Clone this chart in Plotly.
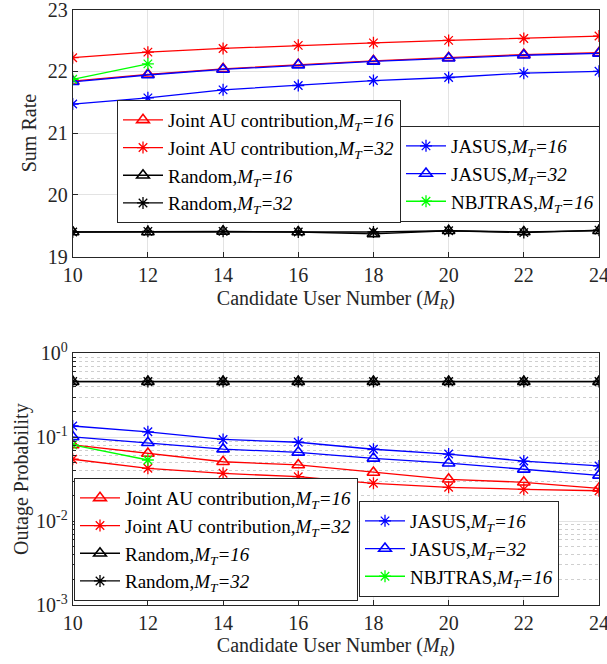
import plotly.graph_objects as go

x = [10, 12, 14, 16, 18, 20, 22, 24]
x_nb = [10, 12]
x_ticks = [10, 12, 14, 16, 18, 20, 22, 24]

# Sum rate
sr_joint16 = [21.84, 21.95, 22.04, 22.11, 22.17, 22.22, 22.27, 22.30]
sr_joint32 = [22.22, 22.31, 22.37, 22.42, 22.46, 22.50, 22.53, 22.57]
sr_rand16 = [19.40, 19.40, 19.41, 19.40, 19.37, 19.42, 19.40, 19.42]
sr_rand32 = [19.40, 19.41, 19.41, 19.40, 19.40, 19.42, 19.39, 19.43]
sr_jasus16 = [21.47, 21.57, 21.70, 21.77, 21.85, 21.90, 21.97, 22.00]
sr_jasus32 = [21.83, 21.94, 22.03, 22.10, 22.16, 22.21, 22.26, 22.29]
sr_nb16 = [21.87, 22.12]

# Outage probability
op_joint16 = [0.081, 0.064, 0.051, 0.0467, 0.038, 0.0315, 0.029, 0.0246]
op_joint32 = [0.0546, 0.0426, 0.0371, 0.0338, 0.0282, 0.0253, 0.0239, 0.023]
op_rand16 = [0.459, 0.459, 0.459, 0.459, 0.459, 0.459, 0.459, 0.459]
op_rand32 = [0.461, 0.461, 0.461, 0.461, 0.461, 0.461, 0.461, 0.461]
op_jasus16 = [0.136, 0.116, 0.094, 0.087, 0.0718, 0.063, 0.052, 0.0454]
op_jasus32 = [0.101, 0.086, 0.072, 0.066, 0.056, 0.049, 0.0414, 0.0351]
op_nb16 = [0.081, 0.0535]

FONT = "Times New Roman"
TXT = "#262626"

def name(base, mt):
    return f"{base},<i>M</i><sub><i>T</i></sub><i>={mt}</i>"

series = [
    ("Joint AU contribution", 16, "#FF0000", "triangle-up-open", True, sr_joint16, op_joint16, x),
    ("Joint AU contribution", 32, "#FF0000", "asterisk-open", True, sr_joint32, op_joint32, x),
    ("Random", 16, "#000000", "triangle-up-open", True, sr_rand16, op_rand16, x),
    ("Random", 32, "#000000", "asterisk-open", True, sr_rand32, op_rand32, x),
    ("JASUS", 16, "#0000FF", "asterisk-open", False, sr_jasus16, op_jasus16, x),
    ("JASUS", 32, "#0000FF", "triangle-up-open", False, sr_jasus32, op_jasus32, x),
    ("NBJTRAS", 16, "#00FF00", "asterisk-open", False, sr_nb16, op_nb16, x_nb),
]

fig = go.Figure()
for i, (base, mt, col, sym, left, sr, op, xx) in enumerate(series):
    mk = dict(symbol=sym, size=11 if "triangle" in sym else 10, color=col,
              line=dict(color=col, width=1.6 if "triangle" in sym else 1.3))
    fig.add_trace(go.Scatter(x=xx, y=sr, mode="lines+markers", name=name(base, mt),
                             line=dict(color=col, width=1.3), marker=mk,
                             legendgroup=f"a{i}",
                             xaxis="x", yaxis="y", legend="legend" if left else "legend2"))
    fig.add_trace(go.Scatter(x=xx, y=op, mode="lines+markers", name=name(base, mt),
                             line=dict(color=col, width=1.3), marker=mk,
                             legendgroup=f"b{i}",
                             xaxis="x2", yaxis="y2", legend="legend3" if left else "legend4"))

W, H = 607, 664
xdom = [72.7 / W, 599 / W]
axis_common = dict(showline=True, linecolor=TXT, linewidth=1, mirror=True,
                   ticks="inside", ticklen=5, tickcolor=TXT,
                   showgrid=True, gridcolor="#e3e3e3", gridwidth=1,
                   tickfont=dict(family=FONT, size=20, color=TXT),
                   ticklabeloverflow="allow",
                   zeroline=False, automargin=False)

title_x = "Candidate User Number (<i>M</i><sub><i>R</i></sub>)"

leg_common = dict(bgcolor="white", bordercolor=TXT, borderwidth=1,
                  font=dict(family=FONT, size=19, color="#000000"),
                  xanchor="left", yanchor="top", itemwidth=40, tracegroupgap=0)

minor_vals = []
for d in [0.001, 0.01, 0.1]:
    for k in range(2, 10):
        minor_vals.append(k * d)

fig.update_layout(
    width=W, height=H,
    margin=dict(l=0, r=0, t=0, b=0),
    paper_bgcolor="white", plot_bgcolor="white",
    font=dict(family=FONT, color=TXT),
    xaxis=dict(domain=xdom, range=[10, 24], tickmode="array", tickvals=x_ticks, anchor="y",
               title=dict(text=title_x, font=dict(family=FONT, size=20, color=TXT), standoff=6),
               **axis_common),
    yaxis=dict(domain=[(H - 256.7) / H, (H - 9.5) / H], range=[19, 23], dtick=1, anchor="x",
               title=dict(text="Sum Rate", font=dict(family=FONT, size=20, color=TXT), standoff=5),
               **axis_common),
    xaxis2=dict(domain=xdom, range=[10, 24], tickmode="array", tickvals=x_ticks, anchor="y2",
                title=dict(text=title_x, font=dict(family=FONT, size=20, color=TXT), standoff=2),
                **axis_common),
    yaxis2=dict(domain=[(H - 605) / H, (H - 353.3) / H], type="log", range=[-3, 0], anchor="x2",
                tickvals=[0.001, 0.01, 0.1, 1],
                ticktext=["10<sup>-3</sup>", "10<sup>-2</sup>", "10<sup>-1</sup>", "10<sup>0</sup>"],
                minor=dict(tickvals=minor_vals, showgrid=True, gridcolor="#cfcfcf",
                           griddash="dot", ticks="inside", ticklen=3, tickcolor=TXT),
                title=dict(text="Outage Probability", font=dict(family=FONT, size=20, color=TXT), standoff=2),
                **axis_common),
    legend=dict(x=117 / W, y=1 - 100 / H, **leg_common),
    legend2=dict(x=400 / W, y=1 - 126 / H, **leg_common),
    legend3=dict(x=74 / W, y=1 - 478 / H, **leg_common),
    legend4=dict(x=359 / W, y=1 - 501 / H, **leg_common),
    showlegend=True,
)

fig.write_html("out.html")
